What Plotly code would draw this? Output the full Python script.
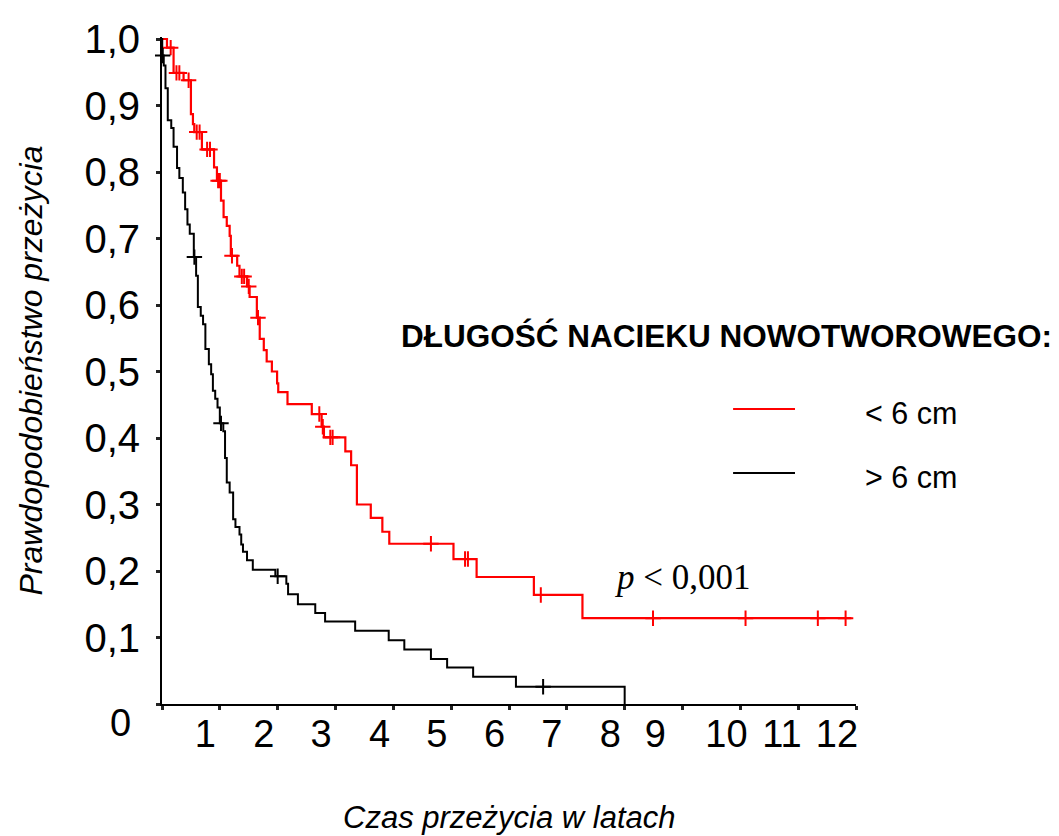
import plotly.graph_objects as go

# Kaplan-Meier estimates: time of each drop (years) and survival after it
t_small = [0.086, 0.20, 0.373, 0.50, 0.535, 0.558, 0.69, 0.90, 0.95, 1.02,
           1.065, 1.12, 1.17, 1.19, 1.30, 1.34, 1.47, 1.515, 1.64, 1.69,
           1.76, 1.81, 1.90, 1.99, 2.01, 2.17, 2.59, 2.76, 2.80, 3.17,
           3.27, 3.37, 3.61, 3.81, 3.93, 5.04, 5.44, 6.43, 7.27]
s_small = [0.987, 0.949, 0.938, 0.887, 0.872, 0.860, 0.834, 0.807, 0.787, 0.757,
           0.732, 0.719, 0.704, 0.674, 0.659, 0.643, 0.628, 0.612, 0.581, 0.549,
           0.532, 0.515, 0.500, 0.482, 0.469, 0.451, 0.436, 0.417, 0.401, 0.380,
           0.359, 0.300, 0.280, 0.259, 0.241, 0.218, 0.191, 0.164, 0.129]
t_small_end = 11.92

# censored observations (< 6 cm)
c_small_t = [0.15, 0.25, 0.30, 0.46, 0.60, 0.65, 0.78, 0.83, 0.97, 1.00,
             1.21, 1.38, 1.42, 1.50, 1.66, 2.72, 2.78, 2.91, 2.95, 4.65,
             5.24, 5.29, 6.55, 8.49, 10.09, 11.34, 11.82]
c_small_s = [0.987, 0.949, 0.949, 0.938, 0.860, 0.860, 0.834, 0.834, 0.787, 0.787,
             0.674, 0.643, 0.643, 0.628, 0.581, 0.436, 0.417, 0.401, 0.401, 0.241,
             0.218, 0.218, 0.164, 0.129, 0.129, 0.129, 0.129]

t_large = [0.004, 0.03, 0.06, 0.10, 0.16, 0.20, 0.26, 0.30, 0.36, 0.40,
           0.44, 0.48, 0.55, 0.59, 0.62, 0.67, 0.71, 0.75, 0.81, 0.85,
           0.88, 0.92, 0.96, 1.00, 1.06, 1.09, 1.12, 1.17, 1.23, 1.27,
           1.34, 1.37, 1.40, 1.47, 1.57, 1.96, 2.15, 2.18, 2.35, 2.65,
           2.82, 3.34, 3.92, 4.19, 4.65, 4.93, 5.38, 6.12, 8.00]
s_large = [0.975, 0.960, 0.926, 0.878, 0.866, 0.838, 0.806, 0.791, 0.769, 0.744,
           0.721, 0.707, 0.672, 0.644, 0.597, 0.584, 0.571, 0.534, 0.511, 0.496,
           0.471, 0.459, 0.446, 0.422, 0.410, 0.370, 0.333, 0.318, 0.278, 0.266,
           0.255, 0.240, 0.229, 0.216, 0.202, 0.192, 0.181, 0.165, 0.150, 0.137,
           0.124, 0.110, 0.096, 0.082, 0.0675, 0.055, 0.041, 0.026, 0.0]

# censored observations (> 6 cm)
c_large_t = [0.012, 0.56, 1.02, 2.00, 6.59]
c_large_s = [0.975, 0.672, 0.422, 0.192, 0.026]

# axis ticks and labels
x_ticks = list(range(0, 13))
x_label_at = [0.75, 1.76, 2.75, 3.76, 4.75, 5.75, 6.74, 7.75, 8.53, 9.76, 10.72, 11.67]
x_label_text = ["1", "2", "3", "4", "5", "6", "7", "8", "9", "10", "11", "12"]
y_ticks = [0.0, 0.1, 0.2, 0.3, 0.4, 0.5, 0.6, 0.7, 0.8, 0.9, 1.0]
y_tick_text = ["", "0,1", "0,2", "0,3", "0,4", "0,5", "0,6", "0,7", "0,8", "0,9", "1,0"]

group_names = ["< 6 cm", "> 6 cm"]
legend_title = "DŁUGOŚĆ NACIEKU NOWOTWOROWEGO:"
p_text = "<i>p</i> < 0,001"

RED = "#ff0000"
BLACK = "#000000"
SANS = "Liberation Sans, Arial, sans-serif"
SERIF = "Liberation Serif, Times New Roman, serif"


def km_path(times, surv, end=None):
    xs = [0.0] + list(times)
    ys = [1.0] + list(surv)
    if end is not None:
        xs.append(end)
        ys.append(ys[-1])
    return xs, ys


fig = go.Figure()

xs, ys = km_path(t_small, s_small, t_small_end)
fig.add_trace(go.Scatter(x=xs, y=ys, mode="lines", line=dict(color=RED, width=2.2, shape="hv"),
                         name=group_names[0], showlegend=False))
xs, ys = km_path(t_large, s_large)
fig.add_trace(go.Scatter(x=xs, y=ys, mode="lines", line=dict(color=BLACK, width=2, shape="hv"),
                         name=group_names[1], showlegend=False))

fig.add_trace(go.Scatter(x=c_small_t, y=c_small_s, mode="markers", cliponaxis=False,
                         marker=dict(symbol="cross-thin", size=11, line=dict(color=RED, width=2)),
                         showlegend=False, hoverinfo="skip"))
fig.add_trace(go.Scatter(x=c_large_t, y=c_large_s, mode="markers", cliponaxis=False,
                         marker=dict(symbol="cross-thin", size=11, line=dict(color=BLACK, width=2)),
                         showlegend=False, hoverinfo="skip"))

fig.update_layout(
    width=1059, height=836,
    margin=dict(l=162, r=203, t=37, b=132, pad=0),
    paper_bgcolor="white", plot_bgcolor="white",
    font=dict(family=SANS, color=BLACK),
    xaxis=dict(range=[0, 12], tickmode="array", tickvals=x_ticks, showticklabels=False,
               ticks="outside", ticklen=4, tickwidth=3, tickcolor="#222",
               showline=True, linecolor=BLACK, linewidth=2, showgrid=False, zeroline=False),
    xaxis2=dict(range=[0, 12], overlaying="x", anchor="y", side="bottom", matches="x",
                tickmode="array", tickvals=x_label_at, ticktext=x_label_text,
                ticks="", showline=False, showgrid=False, zeroline=False,
                tickfont=dict(size=38, family=SANS, color=BLACK), ticklabelstandoff=4),
    yaxis=dict(range=[0, 1.003], tickmode="array", tickvals=y_ticks, ticktext=y_tick_text,
               ticks="outside", ticklen=4, tickwidth=3, tickcolor="#222",
               showline=True, linecolor=BLACK, linewidth=2, showgrid=False, zeroline=False,
               tickfont=dict(size=40, family=SANS, color=BLACK), ticklabelstandoff=8),
    showlegend=False,
)

# empty trace so the label axis is rendered
fig.add_trace(go.Scatter(x=[], y=[], xaxis="x2", yaxis="y", showlegend=False))

# origin label, axis titles, p-value
fig.add_annotation(x=0, y=0, xref="x", yref="y", text="0", showarrow=False,
                   xshift=-42, yshift=-19, font=dict(size=38, family=SANS, color=BLACK))
fig.add_annotation(x=0.5, y=0, xref="paper", yref="paper", text="<i>Czas przeżycia w latach</i>",
                   showarrow=False, yshift=-113, yanchor="middle",
                   font=dict(size=31, family=SANS, color=BLACK))
fig.add_annotation(x=0, y=0.5, xref="paper", yref="paper", text="<i>Prawdopodobieństwo przeżycia</i>",
                   showarrow=False, xshift=-132, textangle=-90, xanchor="center", yanchor="middle",
                   font=dict(size=32, family=SANS, color=BLACK))
fig.add_annotation(x=9.0, y=0.19, xref="x", yref="y", text=p_text, showarrow=False,
                   font=dict(size=35, family=SERIF, color=BLACK))

# legend block
fig.add_annotation(x=0.341, y=0.552, xref="paper", yref="paper", text="<b>" + legend_title + "</b>",
                   showarrow=False, xanchor="left", yanchor="middle",
                   font=dict(size=31.5, family=SANS, color=BLACK))
legend_rows = [(0.4423, RED, group_names[0]), (0.3463, BLACK, group_names[1])]
for yk, col, label in legend_rows:
    fig.add_shape(type="line", xref="paper", yref="paper", x0=0.8229, x1=0.9121, y0=yk, y1=yk,
                  line=dict(color=col, width=2))
    fig.add_annotation(x=1.010, y=yk - 0.006, xref="paper", yref="paper", text=label,
                       showarrow=False, xanchor="left", yanchor="middle",
                       font=dict(size=30.5, family=SANS, color=BLACK))

fig.write_html("out.html")
